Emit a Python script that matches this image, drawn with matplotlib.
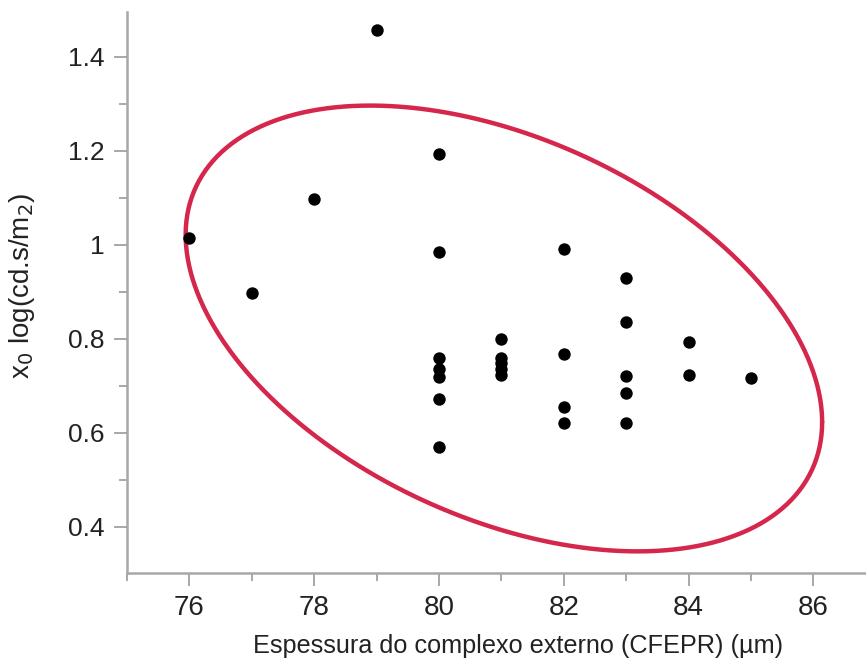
import numpy as np
import matplotlib
matplotlib.use("Agg")
import matplotlib.pyplot as plt
from matplotlib.ticker import MultipleLocator

# Outer complex thickness (µm) and x0 log(cd.s/m2)
thickness = [76, 77, 78, 79,
             80, 80, 80, 80, 80, 80, 80,
             81, 81, 81, 81, 81,
             82, 82, 82, 82,
             83, 83, 83, 83, 83,
             84, 84,
             85]
x0_log = [1.015, 0.897, 1.098, 1.457,
          1.192, 0.985, 0.760, 0.736, 0.719, 0.671, 0.570,
          0.800, 0.760, 0.748, 0.735, 0.723,
          0.992, 0.768, 0.656, 0.622,
          0.930, 0.836, 0.720, 0.684, 0.620,
          0.793, 0.724,
          0.717]

# Ellipse enclosing the group: centre, half-extents and phase coupling
ell_center = (81.04, 0.822)
ell_half_x = 5.10
ell_half_y = 0.474
ell_cos_phase = -0.42

x_ticks = [76, 78, 80, 82, 84, 86]
y_ticks = [0.4, 0.6, 0.8, 1.0, 1.2, 1.4]
y_tick_labels = ["0.4", "0.6", "0.8", "1", "1.2", "1.4"]

fig = plt.figure(figsize=(8.66, 6.59), dpi=100)
ax = fig.add_axes([127 / 866, 1 - 573 / 659, 1 - 127 / 866, (573 - 12) / 659])

ax.scatter(thickness, x0_log, s=80, color="black", zorder=3, linewidths=0)

t = np.linspace(0, 2 * np.pi, 400)
phi = np.arccos(ell_cos_phase)
ex = ell_center[0] + ell_half_x * np.cos(t)
ey = ell_center[1] + ell_half_y * np.cos(t + phi)
ax.plot(ex, ey, color="#d5264b", lw=3.2, zorder=2, solid_capstyle="round")

ax.set_xlim(75, 75 + (866 - 127) / 62.4)
ax.set_ylim(0.302, 1.495)

ax.set_xticks(x_ticks)
ax.set_xticklabels([str(v) for v in x_ticks])
ax.set_yticks(y_ticks)
ax.set_yticklabels(y_tick_labels)
ax.xaxis.set_minor_locator(MultipleLocator(1))
ax.yaxis.set_minor_locator(MultipleLocator(0.1))

spine_col = "#a8a8a8"
for side in ("top", "right"):
    ax.spines[side].set_visible(False)
for side in ("left", "bottom"):
    ax.spines[side].set_color(spine_col)
    ax.spines[side].set_linewidth(1.8)

ax.tick_params(which="major", direction="out", length=9.5, width=1.4,
               color=spine_col)
ax.tick_params(which="minor", direction="out", length=5.5, width=1.4,
               color=spine_col)
ax.tick_params(axis="y", which="major", pad=6.5)
ax.tick_params(axis="x", which="major", pad=6)
for lab in ax.get_yticklabels():
    lab.set_family(["Liberation Sans", "DejaVu Sans"])
    lab.set_fontsize(19)
    lab.set_color("#222222")
for lab in ax.get_xticklabels():
    lab.set_family(["Liberation Sans", "DejaVu Sans"])
    lab.set_fontsize(20)
    lab.set_color("#222222")

ax.set_xlabel("Espessura do complexo externo (CFEPR) (µm)",
              family=["Liberation Sans", "DejaVu Sans"],
              fontsize=18.2, color="#222222")
ax.xaxis.set_label_coords((518.5 - 127) / 739, (573 - 634) / 561)
ax.set_ylabel(r"x$_0$ log(cd.s/m$_2$)",
              family=["Liberation Sans", "DejaVu Sans"],
              fontsize=20, color="#222222")
ax.yaxis.set_label_coords((37 - 127) / 739, (573 - 286) / 561)

fig.savefig("out.png", dpi=100)
